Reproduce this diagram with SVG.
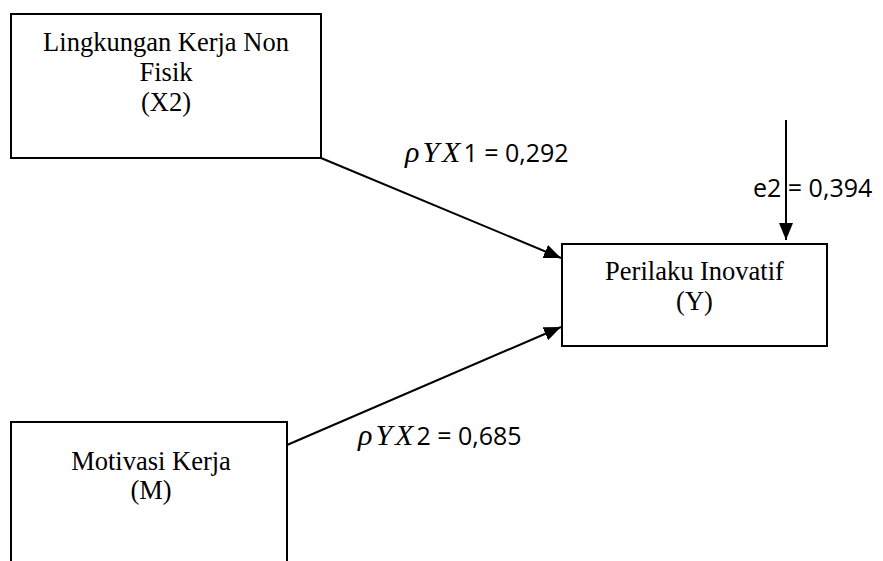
<svg xmlns="http://www.w3.org/2000/svg" width="883" height="561" viewBox="0 0 883 561">
<defs>
<style>
.box{fill:#fff;stroke:#000;stroke-width:2}
.nt{font-family:"Liberation Serif","Times New Roman",serif;font-size:26.5px;fill:#000;text-anchor:middle}
.lbl{font-family:"Open Sans","Liberation Sans",sans-serif;font-size:25px;fill:#000}
.m{font-family:"Liberation Serif","DejaVu Serif",serif;font-style:italic;font-size:30px;letter-spacing:3px}
.c{stroke:#000;stroke-width:2;fill:none}
</style>
<marker id="ah" markerUnits="userSpaceOnUse" markerWidth="18" markerHeight="14" refX="17" refY="7" orient="auto">
<path d="M0,0 L17,7 L0,14 Z" fill="#000"/>
</marker>
</defs>
<rect width="883" height="561" fill="#fff"/>
<g id="node-x2">
<rect class="box" x="11" y="14" width="310" height="144"/>
<text class="nt" x="166" y="51">Lingkungan Kerja Non</text>
<text class="nt" x="166" y="81">Fisik</text>
<text class="nt" x="166" y="111">(X2)</text>
</g>
<g id="node-y">
<rect class="box" x="562" y="244" width="265" height="102"/>
<text class="nt" x="694.5" y="280">Perilaku Inovatif</text>
<text class="nt" x="694.5" y="310">(Y)</text>
</g>
<g id="node-m">
<rect class="box" x="11" y="422" width="276" height="160"/>
<text class="nt" x="151" y="470">Motivasi Kerja</text>
<text class="nt" x="151" y="499">(M)</text>
</g>
<g id="connectors">
<line class="c" x1="321" y1="158" x2="561" y2="258" marker-end="url(#ah)"/>
<line class="c" x1="287" y1="445" x2="561" y2="327" marker-end="url(#ah)"/>
<line class="c" x1="786" y1="120" x2="786" y2="240" marker-end="url(#ah)"/>
</g>
<g id="labels">
<text class="lbl" x="405" y="162"><tspan class="m">ρYX</tspan>1 = 0,292</text>
<text class="lbl" x="358" y="445"><tspan class="m">ρYX</tspan>2 = 0,685</text>
<text class="lbl" x="753" y="197">e2 = 0,394</text>
</g>
</svg>
